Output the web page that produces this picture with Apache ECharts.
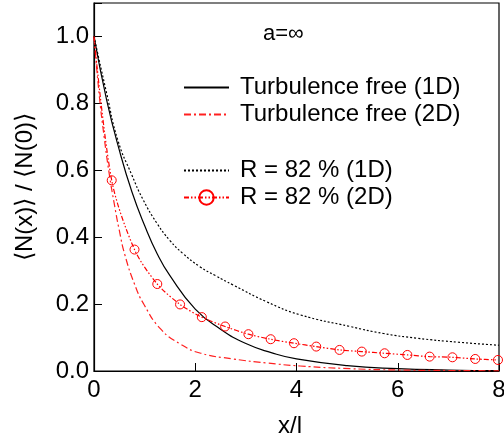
<!DOCTYPE html>
<html lang="en">
<head>
<meta charset="UTF-8">
<title>N(x)/N(0)</title>
<style>
  html, body { margin: 0; padding: 0; background: #fff; }
  #main { width: 504px; height: 435px; }
</style>
</head>
<body>
<div id="main"></div>
<script src="https://cdn.jsdelivr.net/npm/echarts@6/dist/echarts.min.js"></script>
<script>
// values
var freeX1 = [0, 0.25, 0.5, 0.75, 1, 1.25, 1.5, 2, 2.5, 3, 3.5, 4, 5, 6, 7, 8];
var freeY1 = [1.0, 0.81, 0.66, 0.535, 0.435, 0.35, 0.285, 0.185, 0.125, 0.082, 0.055, 0.036, 0.016, 0.007, 0.003, 0.001];

var freeX2 = [0, 0.1, 0.2, 0.3, 0.4, 0.5, 0.61, 0.8, 0.99, 1.32, 1.71, 2.11, 2.75, 3.41, 4.07, 5.06, 6, 7, 8];
var freeY2 = [1.0, 0.83, 0.7, 0.59, 0.5, 0.42, 0.347, 0.26, 0.198, 0.125, 0.08, 0.053, 0.036, 0.024, 0.015, 0.007, 0.003, 0.0015, 0.0005];

var turbX1 = [0, 0.25, 0.47, 0.75, 0.97, 1.25, 1.5, 1.75, 2.09, 2.4, 2.75, 3.41, 4.07, 5.06, 5.72, 6.38, 7.2, 8];
var turbY1 = [1.0, 0.83, 0.69, 0.585, 0.512, 0.44, 0.39, 0.352, 0.312, 0.285, 0.257, 0.207, 0.168, 0.133, 0.112, 0.098, 0.086, 0.077];

var turbX2 = [0, 0.35, 0.8, 1.25, 1.7, 2.13, 2.59, 3.05, 3.49, 3.95, 4.39, 4.85, 5.29, 5.74, 6.19, 6.63, 7.08, 7.53, 7.98];
var turbY2 = [1.0, 0.57, 0.363, 0.26, 0.199, 0.161, 0.133, 0.11, 0.095, 0.083, 0.073, 0.063, 0.058, 0.053, 0.048, 0.043, 0.041, 0.036, 0.033];

var names = ['Turbulence free (1D)', 'Turbulence free (2D)', 'R = 82 % (1D)', 'R = 82 % (2D)'];
var yTicks = [0, 0.2, 0.4, 0.6, 0.8, 1.0];

function pairs(xs, ys) {
    var out = [];
    for (var i = 0; i < xs.length; i++) out.push([xs[i], ys[i]]);
    return out;
}

var font = 'Liberation Sans, Arial, sans-serif';
var myChart = echarts.init(document.getElementById('main'));

var turb2 = pairs(turbX2, turbY2).map(function (p, i) {
    return i === 0 ? { value: p, symbol: 'none' } : p;
});

var legendText = { fontSize: 24, color: '#000', lineHeight: 27, padding: [0, 0, 0, 6], fontFamily: font };

var option = {
    animation: false,
    backgroundColor: '#fff',
    textStyle: { fontFamily: font },
    title: {
        text: 'a=\u221e',
        left: 263, top: 23, padding: 0,
        textStyle: { fontSize: 22, fontWeight: 'normal', color: '#000', fontFamily: font }
    },
    grid: {
        left: 94, right: 5, top: 3, bottom: 64,
        outerBoundsMode: 'none',
        containLabel: false,
        show: true, borderColor: '#000', borderWidth: 1.2
    },
    legend: [{
        data: [
            { name: names[0], itemStyle: { opacity: 0 } },
            { name: names[1], itemStyle: { opacity: 0 } }
        ],
        orient: 'vertical',
        left: 183, top: 74, padding: 0,
        itemWidth: 45, itemHeight: 14, itemGap: 0,
        textStyle: legendText
    }, {
        data: [
            { name: names[2], itemStyle: { opacity: 0 } },
            { name: names[3] }
        ],
        orient: 'vertical',
        left: 183, top: 157, padding: 0,
        itemWidth: 45, itemHeight: 18, itemGap: 0,
        textStyle: legendText
    }],
    xAxis: {
        type: 'value',
        min: 0, max: 8, interval: 2,
        name: 'x/l',
        nameLocation: 'middle',
        nameGap: 43,
        nameTextStyle: { fontSize: 24, color: '#000', padding: [0, 13, 0, 0], fontFamily: font },
        axisLine: { lineStyle: { color: '#000', width: 1.2 } },
        axisTick: { inside: true, length: 8, lineStyle: { color: '#000' } },
        axisLabel: { fontSize: 24, color: '#000', margin: 7, fontFamily: font },
        splitLine: { show: false }
    },
    yAxis: {
        type: 'value',
        min: 0, max: 1.1, interval: 0.2,
        name: '\u27e8N(x)\u27e9 / \u27e8N(0)\u27e9',
        nameLocation: 'middle',
        nameGap: 57,
        nameTextStyle: { fontSize: 24, color: '#000', fontFamily: font },
        axisLine: { lineStyle: { color: '#000', width: 1.2 } },
        axisTick: { inside: true, length: 8, lineStyle: { color: '#000' } },
        axisLabel: {
            fontSize: 24, color: '#000', margin: 5, fontFamily: font,
            formatter: function (v) {
                for (var i = 0; i < yTicks.length; i++) {
                    if (Math.abs(v - yTicks[i]) < 1e-6) return yTicks[i].toFixed(1);
                }
                return '';
            }
        },
        splitLine: { show: false }
    },
    series: [{
        name: names[0],
        type: 'line',
        smooth: 0.5,
        symbol: 'none',
        data: pairs(freeX1, freeY1),
        itemStyle: { color: '#000' },
        lineStyle: { color: '#000', width: 1.2, type: 'solid' }
    }, {
        name: names[1],
        type: 'line',
        smooth: 0.5,
        symbol: 'none',
        data: pairs(freeX2, freeY2),
        itemStyle: { color: '#ff2020' },
        lineStyle: { color: '#ff2020', width: 1.2, type: [7, 3, 2, 3] }
    }, {
        name: names[2],
        type: 'line',
        smooth: 0.5,
        symbol: 'none',
        data: pairs(turbX1, turbY1),
        itemStyle: { color: '#000' },
        lineStyle: { color: '#000', width: 1.2, type: [2, 2] }
    }, {
        name: names[3],
        type: 'line',
        smooth: 0.3,
        symbol: 'circle',
        symbolSize: 9,
        data: turb2,
        itemStyle: { color: 'rgba(0,0,0,0)', borderColor: '#ff0000', borderWidth: 1 },
        lineStyle: { color: '#ff0000', width: 1.2, type: [5, 2, 1.5, 2, 1.5, 2] }
    }]
};

myChart.setOption(option);
</script>
</body>
</html>
